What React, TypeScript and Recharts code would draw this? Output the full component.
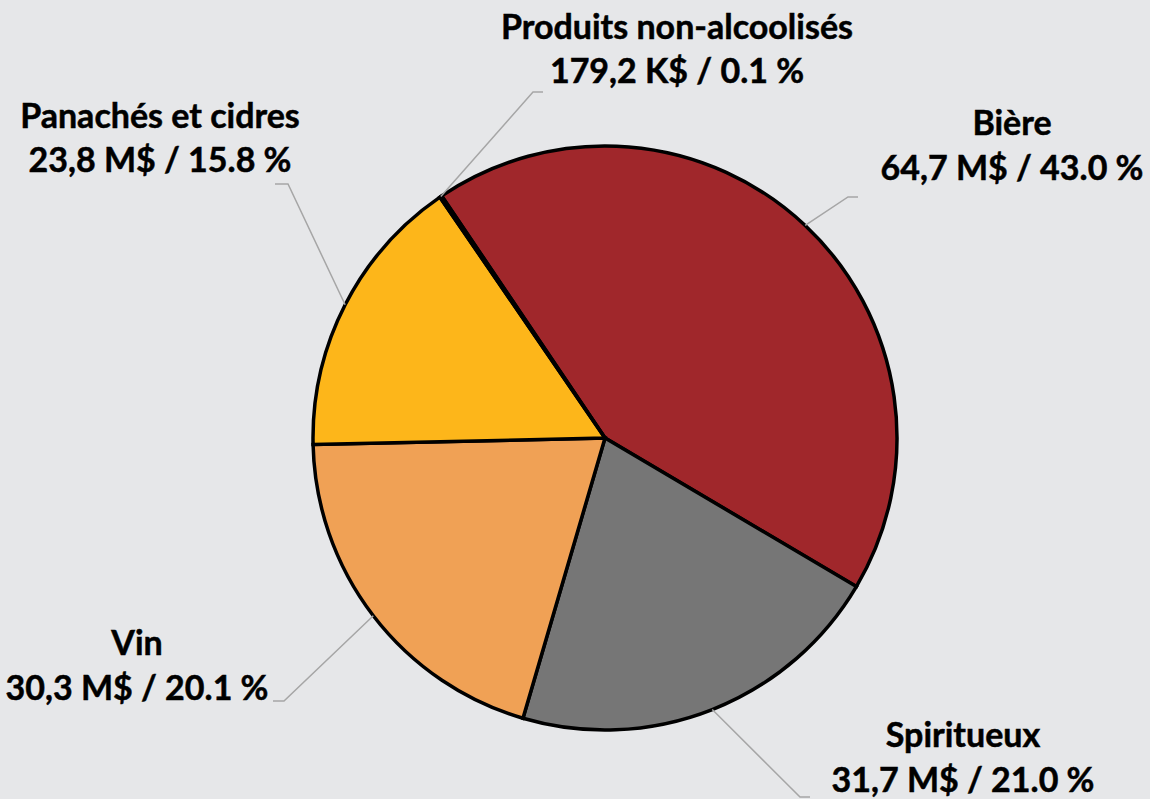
import { PieChart, Pie, Cell } from "recharts";

const categories = ["Bière", "Spiritueux", "Vin", "Panachés et cidres", "Produits non-alcoolisés"];
const salesMillions = [64.7, 31.7, 30.3, 23.8, 0.1792];
const shares = [43.0, 21.0, 20.1, 15.8, 0.1];
const colors = ["#a0272b", "#767676", "#f0a155", "#fdb61a", "#1a1a1a"];

// label placement, relative to pie centre: elbow of the leader, tail length, text centre and baselines
const labelLayout = [
  { elbow: [243, -241], tail: 10, tx: 407, ty: [-303, -258] },
  { elbow: [195, 359], tail: 10, tx: 358, ty: [309, 354] },
  { elbow: [-321, 263], tail: -11, tx: -468, ty: [217, 262] },
  { elbow: [-317, -254], tail: -13, tx: -445, ty: [-310, -266] },
  { elbow: [-72, -346], tail: 10, tx: 72, ty: [-399, -355] },
];

const data = categories.map((name, i) => ({ name, value: salesMillions[i], share: shares[i] }));

const fmt = (v: number) => (v < 1 ? (v * 1000).toFixed(1).replace(".", ",") + " K$" : v.toFixed(1).replace(".", ",") + " M$");

const RAD = Math.PI / 180;

function renderLabel(props: any) {
  const { cx, cy, midAngle, outerRadius, index } = props;
  const d = data[index];
  const lay = labelLayout[index];
  const sx = cx + outerRadius * Math.cos(-midAngle * RAD);
  const sy = cy + outerRadius * Math.sin(-midAngle * RAD);
  const ex = cx + lay.elbow[0];
  const ey = cy + lay.elbow[1];
  return (
    <g key={"lbl-" + index}>
      <polyline
        points={`${sx},${sy} ${ex},${ey} ${ex + lay.tail},${ey}`}
        fill="none"
        stroke="#a6a6a6"
        strokeWidth={1.5}
      />
      <text
        x={cx + lay.tx}
        textAnchor="middle"
        fontFamily="Lato, 'Open Sans', sans-serif"
        fontWeight={700}
        fontSize={34}
        fill="#000"
        stroke="#000"
        strokeWidth={0.5}
      >
        <tspan x={cx + lay.tx} y={cy + lay.ty[0]}>{d.name}</tspan>
        <tspan x={cx + lay.tx} y={cy + lay.ty[1]}>{`${fmt(d.value)} / ${d.share.toFixed(1)} %`}</tspan>
      </text>
    </g>
  );
}

export default function App() {
  return (
    <div style={{ position: "absolute", left: 0, top: 0, width: 1150, height: 799, background: "#e6e7e9" }}>
      <PieChart width={1150} height={799} margin={{ top: 0, right: 0, bottom: 0, left: 0 }}>
        <Pie
          data={data}
          dataKey="value"
          nameKey="name"
          cx={605}
          cy={438}
          outerRadius={292}
          startAngle={124}
          endAngle={-236}
          stroke="#000"
          strokeWidth={3.5}
          label={renderLabel}
          labelLine={false}
          isAnimationActive={false}
        >
          {data.map((entry, i) => (
            <Cell key={entry.name} fill={colors[i]} />
          ))}
        </Pie>
      </PieChart>
    </div>
  );
}
